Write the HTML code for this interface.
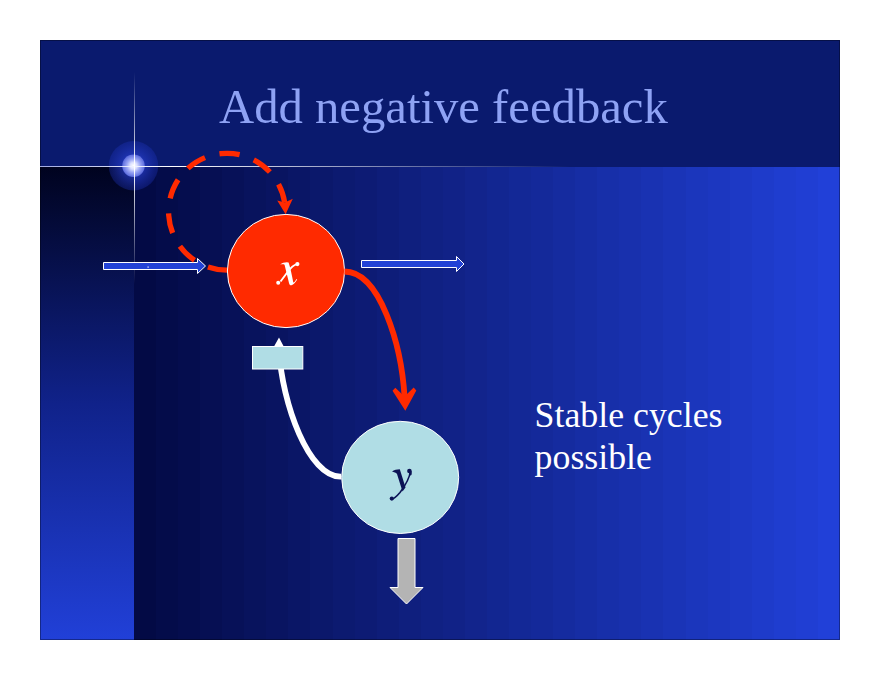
<!DOCTYPE html>
<html><head><meta charset="utf-8">
<style>
html,body{margin:0;padding:0;background:#fff;width:880px;height:680px;overflow:hidden}
svg{position:absolute;left:0;top:0}
text{font-family:"Liberation Serif",serif}
</style></head>
<body>
<svg width="880" height="680" viewBox="0 0 880 680">
<defs>
  <linearGradient id="gLeft" x1="0" y1="0" x2="0" y2="1">
    <stop offset="0" stop-color="#00031f"/>
    <stop offset="0.5" stop-color="#10228a"/>
    <stop offset="1" stop-color="#2140d8"/>
  </linearGradient>
  <linearGradient id="gMain" x1="0" y1="0" x2="1" y2="0">
    <stop offset="0.00000" stop-color="#030a45"/>
    <stop offset="0.03125" stop-color="#030a45"/>
    <stop offset="0.03125" stop-color="#040c4a"/>
    <stop offset="0.06250" stop-color="#040c4a"/>
    <stop offset="0.06250" stop-color="#050d4e"/>
    <stop offset="0.09375" stop-color="#050d4e"/>
    <stop offset="0.09375" stop-color="#060f53"/>
    <stop offset="0.12500" stop-color="#060f53"/>
    <stop offset="0.12500" stop-color="#071158"/>
    <stop offset="0.15625" stop-color="#071158"/>
    <stop offset="0.15625" stop-color="#08135d"/>
    <stop offset="0.18750" stop-color="#08135d"/>
    <stop offset="0.18750" stop-color="#091461"/>
    <stop offset="0.21875" stop-color="#091461"/>
    <stop offset="0.21875" stop-color="#0a1666"/>
    <stop offset="0.25000" stop-color="#0a1666"/>
    <stop offset="0.25000" stop-color="#0b186b"/>
    <stop offset="0.28125" stop-color="#0b186b"/>
    <stop offset="0.28125" stop-color="#0c1a70"/>
    <stop offset="0.31250" stop-color="#0c1a70"/>
    <stop offset="0.31250" stop-color="#0d1b74"/>
    <stop offset="0.34375" stop-color="#0d1b74"/>
    <stop offset="0.34375" stop-color="#0e1d79"/>
    <stop offset="0.37500" stop-color="#0e1d79"/>
    <stop offset="0.37500" stop-color="#0f1f7e"/>
    <stop offset="0.40625" stop-color="#0f1f7e"/>
    <stop offset="0.40625" stop-color="#102183"/>
    <stop offset="0.43750" stop-color="#102183"/>
    <stop offset="0.43750" stop-color="#112287"/>
    <stop offset="0.46875" stop-color="#112287"/>
    <stop offset="0.46875" stop-color="#12248c"/>
    <stop offset="0.50000" stop-color="#12248c"/>
    <stop offset="0.50000" stop-color="#122691"/>
    <stop offset="0.53125" stop-color="#122691"/>
    <stop offset="0.53125" stop-color="#132896"/>
    <stop offset="0.56250" stop-color="#132896"/>
    <stop offset="0.56250" stop-color="#14299a"/>
    <stop offset="0.59375" stop-color="#14299a"/>
    <stop offset="0.59375" stop-color="#152b9f"/>
    <stop offset="0.62500" stop-color="#152b9f"/>
    <stop offset="0.62500" stop-color="#162da4"/>
    <stop offset="0.65625" stop-color="#162da4"/>
    <stop offset="0.65625" stop-color="#172fa9"/>
    <stop offset="0.68750" stop-color="#172fa9"/>
    <stop offset="0.68750" stop-color="#1830ad"/>
    <stop offset="0.71875" stop-color="#1830ad"/>
    <stop offset="0.71875" stop-color="#1932b2"/>
    <stop offset="0.75000" stop-color="#1932b2"/>
    <stop offset="0.75000" stop-color="#1a34b7"/>
    <stop offset="0.78125" stop-color="#1a34b7"/>
    <stop offset="0.78125" stop-color="#1b36bc"/>
    <stop offset="0.81250" stop-color="#1b36bc"/>
    <stop offset="0.81250" stop-color="#1c37c0"/>
    <stop offset="0.84375" stop-color="#1c37c0"/>
    <stop offset="0.84375" stop-color="#1d39c5"/>
    <stop offset="0.87500" stop-color="#1d39c5"/>
    <stop offset="0.87500" stop-color="#1e3bca"/>
    <stop offset="0.90625" stop-color="#1e3bca"/>
    <stop offset="0.90625" stop-color="#1f3dcf"/>
    <stop offset="0.93750" stop-color="#1f3dcf"/>
    <stop offset="0.93750" stop-color="#203ed3"/>
    <stop offset="0.96875" stop-color="#203ed3"/>
    <stop offset="0.96875" stop-color="#2140d8"/>
    <stop offset="1.00000" stop-color="#2140d8"/>
  </linearGradient>
  <linearGradient id="gHLine" x1="0" y1="0" x2="1" y2="0">
    <stop offset="0" stop-color="#c8d0ff" stop-opacity="0.8"/>
    <stop offset="0.25" stop-color="#ffffff" stop-opacity="1"/>
    <stop offset="1" stop-color="#ffffff" stop-opacity="0"/>
  </linearGradient>
  <linearGradient id="gVLine" x1="0" y1="0" x2="0" y2="1">
    <stop offset="0" stop-color="#ffffff" stop-opacity="0"/>
    <stop offset="0.45" stop-color="#ffffff" stop-opacity="1"/>
    <stop offset="1" stop-color="#ffffff" stop-opacity="0"/>
  </linearGradient>
  <radialGradient id="gGlowOuter" cx="0.5" cy="0.5" r="0.5">
    <stop offset="0" stop-color="#3048e0" stop-opacity="0.8"/>
    <stop offset="0.46" stop-color="#2840d4" stop-opacity="0.62"/>
    <stop offset="1" stop-color="#1e34c0" stop-opacity="0.32"/>
  </radialGradient>
  <radialGradient id="gGlowInner" cx="0.5" cy="0.5" r="0.5">
    <stop offset="0" stop-color="#ffffff" stop-opacity="1"/>
    <stop offset="0.3" stop-color="#dce0ff" stop-opacity="1"/>
    <stop offset="0.6" stop-color="#98a4f4" stop-opacity="1"/>
    <stop offset="1" stop-color="#5a6adc" stop-opacity="1"/>
  </radialGradient>
</defs>

<!-- slide background -->
<rect x="40" y="40" width="800" height="127" fill="#0a1a6e"/>
<rect x="40" y="167" width="94" height="473" fill="url(#gLeft)"/>
<rect x="134" y="167" width="706" height="473" fill="url(#gMain)"/>
<rect x="40.5" y="40.5" width="799" height="599" fill="none" stroke="#000000" stroke-width="1" stroke-opacity="0.35"/>

<!-- lines + glow -->
<circle cx="133.5" cy="165.8" r="24.7" fill="url(#gGlowOuter)"/>
<circle cx="133.5" cy="165.8" r="11.3" fill="url(#gGlowInner)"/>
<rect x="40" y="166" width="530" height="1" fill="url(#gHLine)"/>
<rect x="134" y="72" width="1" height="212" fill="url(#gVLine)"/>


<!-- title -->
<text x="219" y="123" font-size="48.7" fill="#8ea2f4">Add negative feedback</text>

<!-- input arrow -->
<path d="M103.5 262.5 H197.5 V258.5 L205.5 266 L197.5 273.5 V269.5 H103.5 Z" fill="#2242d6" stroke="#ffffff" stroke-width="1"/>
<!-- output arrow -->
<path d="M361.5 260.5 H456.5 V256.5 L464 264 L456.5 271.5 V267.5 H361.5 Z" fill="#2242d6" stroke="#ffffff" stroke-width="1"/>

<rect x="147.5" y="266.5" width="1.2" height="1.2" fill="#ffffff"/>
<!-- dashed self loop -->
<path d="M227.9 270.1 A58.4 58.4 0 1 1 284.7 202.6" fill="none" stroke="#ff2a00" stroke-width="5.3" stroke-dasharray="20.3 15"/>
<path d="M285.6 214.2 L277.2 200.4 L284.8 202.6 L292.8 198.8 Z" fill="#ff2a00"/>

<!-- x circle -->
<ellipse cx="286" cy="271" rx="58.6" ry="56.6" fill="#ff2a00" stroke="#ffffff" stroke-width="1"/>
<g fill="#ffffff">
<path d="M280.2 264.6 C282 263 284.5 262.3 286.8 262.3 L288.6 262.6 C290.6 268 291.9 276 293.2 282 C293.5 283.5 295 281.5 296.6 279 L297.2 279.6 C295.5 282.5 293.5 285 291.5 285.3 C290 285.5 289.4 284.5 289 283 C287.6 277 285.8 270 284.6 265 C284.5 264 282.5 264.2 280.2 264.6 Z"/>
<path d="M297 264.2 C294 265 291 267.5 288 271.5 L280.5 281.5" fill="none" stroke="#ffffff" stroke-width="1.9"/>
<circle cx="297.4" cy="264.1" r="2.1"/>
<circle cx="278.2" cy="282.7" r="2"/>
</g>

<!-- red curve arrow -->
<path d="M344.4 271.5 C380 271.5 401.5 345 404.6 397.5" fill="none" stroke="#ff2a00" stroke-width="5.8"/>
<path d="M405.3 410.8 L392.5 390.8 L395.3 387.8 L404.5 396.5 L413.7 387.6 L416.3 390.6 Z" fill="#ff2a00"/>

<!-- white inhibitory curve -->
<path d="M341.2 476.7 C308.9 477.8 281.8 402.6 279.2 350.6" fill="none" stroke="#ffffff" stroke-width="5.8"/>
<path d="M279 337.4 L266.8 359.4 L279.2 350.6 L290.6 359.4 Z" fill="#ffffff"/>
<rect x="252.5" y="346.5" width="50.3" height="22.5" fill="#b0dde5" stroke="#ffffff" stroke-width="1"/>

<!-- y circle -->
<ellipse cx="400.2" cy="477.4" rx="58.5" ry="56.1" fill="#b0dde5" stroke="#ffffff" stroke-width="1"/>
<g fill="#0b1255">
<path d="M392 471.5 C394 470 397 469.3 399.8 469.3 L405.5 487.5 L402.5 491.5 L397 474 C396 472.5 394 472 392 471.5 Z"/>
<path d="M410.5 471 C409.5 478 405 486 400 492.5 C397 496 394.5 498.5 391.5 499.5" fill="none" stroke="#0b1255" stroke-width="1.6"/>
<circle cx="409.4" cy="471" r="2.3"/><ellipse cx="410.4" cy="473" rx="1.4" ry="2.6"/>
<circle cx="391.8" cy="498.6" r="2.1"/>
</g>

<!-- gray down arrow -->
<path d="M398 538.5 H415 V587.5 H423 L406.5 604 L390 587.5 H398 Z" fill="#b4b4b4" stroke="#ffffff" stroke-width="1"/>

<!-- side text -->
<text x="534.6" y="427" font-size="35.8" fill="#ffffff">Stable cycles</text>
<text x="534.6" y="469" font-size="35.8" fill="#ffffff">possible</text>
</svg>
</body></html>
